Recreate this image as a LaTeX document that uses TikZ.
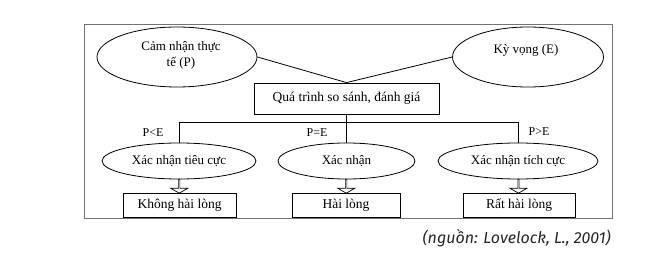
\documentclass[tikz,border=0pt]{standalone}
\usepackage{fontspec}
\setmainfont{Liberation Serif}
\newfontfamily\capfont{Fira Sans}
\usetikzlibrary{shapes.geometric,shapes.arrows,calc}
\begin{document}
\begin{tikzpicture}[x=1pt,y=-1pt,
  line/.style={draw=black, line width=0.8pt},
  ell/.style={ellipse, draw, line width=0.8pt, inner sep=0pt},
  box/.style={rectangle, draw, line width=0.8pt, inner sep=0pt},
  txt/.style={font=\fontsize{13}{15}\selectfont, inner sep=0pt},
  lbl/.style={font=\fontsize{12}{14}\selectfont, inner sep=0pt},
  harrow/.style={single arrow, draw, line width=0.7pt, shape border rotate=270,
    minimum height=14pt, minimum width=17pt, single arrow head extend=4.5pt,
    single arrow tip angle=120, inner sep=0pt}]
\useasboundingbox (0,0) rectangle (669,267);
\draw[draw=black!55, line width=1pt] (84,25) rectangle (612,218);
% top ellipses
\node[ell, minimum width=160pt, minimum height=60pt] (P) at (177,57) {};
\node[txt, align=center] (Pt) at (181,55.5) {Cảm nhận thực\\[1pt]tế (P)};
\node[ell, minimum width=151pt, minimum height=60pt] (E) at (528,57) {};
\node[txt] (Et) at (526,50) {Kỳ vọng (E)};
% comparison box
\node[box, minimum width=185pt, minimum height=31pt, font=\fontsize{13.5}{15}\selectfont] (Q) at (346.5,98.5) {Quá trình so sánh, đánh giá};
\draw[line] (P.east) -- (Q.north);
\draw[line] (E.west) -- (Q.north);
% second row ellipses
\node[ell, minimum width=154pt, minimum height=36pt, txt] (A) at (179,161) {Xác nhận tiêu cực};
\node[ell, minimum width=137pt, minimum height=36pt, txt] (B) at (346.5,161) {Xác nhận};
\node[ell, minimum width=160pt, minimum height=36pt, txt] (C) at (518,161) {Xác nhận tích cực};
\coordinate (J) at ($(Q.south)+(0,8)$);
\draw[line] (Q.south) -- (B.north);
\draw[line] (A.north) |- (J) -| (C.north);
\node[lbl] (l1) at (153,133) {P<E};
\node[lbl] (l2) at (317,133) {P=E};
\node[lbl] (l3) at (539,132) {P>E};
% bottom boxes
\node[box, minimum width=113pt, minimum height=24pt, font=\fontsize{13.5}{15}\selectfont] (K) at (179.5,205) {Không hài lòng};
\node[box, minimum width=108pt, minimum height=24pt, font=\fontsize{13.5}{15}\selectfont] (H) at (346,205) {Hài lòng};
\node[box, minimum width=112pt, minimum height=24pt, font=\fontsize{13.5}{15}\selectfont] (R) at (519,205) {Rất hài lòng};
\node[harrow] (a1) at ($(A.south)!0.5!(K.north)$) {};
\node[harrow] (a2) at ($(B.south)!0.5!(H.north)$) {};
\node[harrow] (a3) at ($(C.south)!0.5!(R.north)$) {};
% caption
\node[anchor=east, inner sep=0pt, font=\capfont\itshape\fontsize{16}{18}\selectfont, text=black!85] (cap) at (611,238) {(nguồn: Lovelock, L., 2001)};
\end{tikzpicture}
\end{document}
